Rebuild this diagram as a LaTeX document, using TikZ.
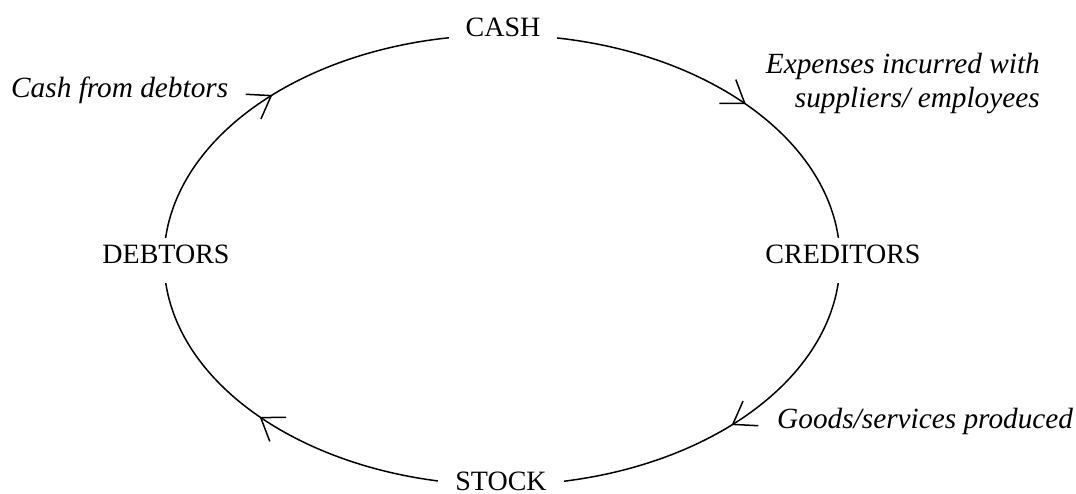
\documentclass[tikz,border=0pt]{standalone}
\usepackage{fontspec}
\setmainfont{Liberation Serif}
\usetikzlibrary{arrows.meta,decorations.markings}
\begin{document}
\begin{tikzpicture}[x=1pt,y=1pt,
  ring/.style={line width=1.5pt},
  flowtip/.style={postaction={decorate},
    decoration={markings, mark=at position #1 with {\arrow{Straight Barb[length=21pt,width=29pt]}}}},
  stage/.style={font=\fontsize{28}{34}\selectfont, fill=white, inner xsep=17pt, inner ysep=0pt,
    text height=26pt, text depth=19pt, anchor=base},
  note/.style={font=\fontsize{29.3}{34}\selectfont\itshape, inner sep=0pt}]
\useasboundingbox (0,0) rectangle (1076,493);
% quarter points of the cash cycle ellipse
\coordinate (n) at (502,458);
\coordinate (e) at (840,233);
\coordinate (s) at (502,8);
\coordinate (w) at (164,233);
% the cycle, clockwise, one quarter per step
\draw[ring, flowtip=0.576] (n) arc[start angle=90, end angle=0, x radius=338pt, y radius=225pt];
\draw[ring, flowtip=0.462] (e) arc[start angle=0, end angle=-90, x radius=338pt, y radius=225pt];
\draw[ring, flowtip=0.572] (s) arc[start angle=-90, end angle=-180, x radius=338pt, y radius=225pt];
\draw[ring, flowtip=0.462] (w) arc[start angle=180, end angle=90, x radius=338pt, y radius=225pt];
% stages
\node[stage] (cash) at (503,456) {CASH};
\node[stage] (debtors) at (166,229) {DEBTORS};
\node[stage] (creditors) at (843,229) {CREDITORS};
\node[stage, text depth=2pt] (stock) at (501,3) {STOCK};
% flow notes
\node[note, anchor=base west] (cashin) at (11,395) {Cash from debtors};
\node[note, anchor=base east, align=right] (expenses) at (1040,385) {Expenses incurred with\\suppliers/ employees};
\node[note, anchor=base west] (goods) at (777,65) {Goods/services produced};
\end{tikzpicture}
\end{document}
